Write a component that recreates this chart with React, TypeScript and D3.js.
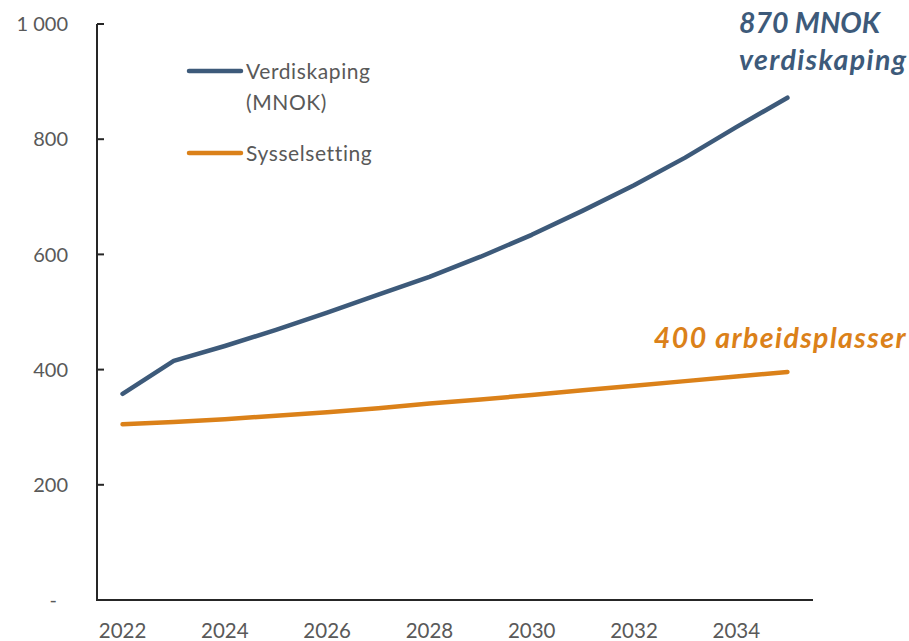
import React from "react";
import * as d3 from "d3";

const years = [2022, 2023, 2024, 2025, 2026, 2027, 2028, 2029, 2030, 2031, 2032, 2033, 2034, 2035];
const verdiskaping = [358, 415, 441, 469, 499, 530, 561, 596, 634, 676, 720, 768, 821, 872];
const sysselsetting = [305, 309, 314, 320, 326, 333, 341, 348, 356, 364, 372, 380, 388, 396];
const yTicks = [0, 200, 400, 600, 800, 1000];
const xTickYears = [2022, 2024, 2026, 2028, 2030, 2032, 2034];

const BLUE = "#3D5A7A";
const ORANGE = "#DB8119";
const GREY = "#595959";
const AXIS = "#262626";
const FONT = "Lato, 'Open Sans', sans-serif";

export default function App() {
  const W = 909;
  const H = 641;
  const x = d3.scaleBand<number>().domain(years).range([97, 813]);
  const cx = (yr: number) => (x(yr) as number) + x.bandwidth() / 2;
  const y = d3.scaleLinear().domain([0, 1000]).range([600, 24]);
  const fmt = (v: number) => (v === 0 ? "-" : d3.format(",")(v).replace(/,/g, " "));

  const line = d3
    .line<number>()
    .x((_, i) => cx(years[i]))
    .y((d) => y(d))
    .curve(d3.curveLinear);

  return (
    <svg
      width={W}
      height={H}
      style={{ position: "absolute", left: 0, top: 0, background: "#fff" }}
      fontFamily={FONT}
    >
      <rect x={0} y={0} width={W} height={H} fill="#fff" />
      {/* y axis */}
      <line x1={97} x2={97} y1={y(1000)} y2={y(0)} stroke={AXIS} strokeWidth={2} />
      {yTicks.map((t) => (
        <g key={t}>
          {t !== 0 && <line x1={97} x2={104} y1={y(t)} y2={y(t)} stroke={AXIS} strokeWidth={2} />}
          <text
            x={t === 0 ? 57 : 68}
            y={y(t)}
            dy="0.36em"
            textAnchor="end"
            fontSize={20}
            fill={GREY}
          >
            {fmt(t)}
          </text>
        </g>
      ))}
      {/* x axis */}
      <line x1={96} x2={813} y1={y(0)} y2={y(0)} stroke={AXIS} strokeWidth={2} />
      {xTickYears.map((yr) => (
        <text key={yr} x={cx(yr)} y={638} textAnchor="middle" fontSize={20.5} fill={GREY}>
          {yr}
        </text>
      ))}
      {/* lines */}
      <path d={line(sysselsetting) || ""} fill="none" stroke={ORANGE} strokeWidth={4.5} strokeLinecap="round" strokeLinejoin="round" />
      <path d={line(verdiskaping) || ""} fill="none" stroke={BLUE} strokeWidth={4.5} strokeLinecap="round" strokeLinejoin="round" />
      {/* legend */}
      <line x1={189} x2={241} y1={71} y2={71} stroke={BLUE} strokeWidth={4.5} strokeLinecap="round" />
      <text x={246} y={71} dy="0.36em" fontSize={21} letterSpacing={0.6} fill={GREY}>Verdiskaping</text>
      <text x={246} y={102} dy="0.36em" fontSize={21} letterSpacing={0.6} fill={GREY}>(MNOK)</text>
      <line x1={189} x2={241} y1={153} y2={153} stroke={ORANGE} strokeWidth={4.5} strokeLinecap="round" />
      <text x={246} y={153} dy="0.36em" fontSize={21} letterSpacing={0.6} fill={GREY}>Sysselsetting</text>
      {/* annotations */}
      <text x={739} y={33} fontSize={28.5} fontWeight="bold" fontStyle="italic" fill={BLUE}>870 MNOK</text>
      <text x={739} y={70} fontSize={28.5} fontWeight="bold" fontStyle="italic" letterSpacing={1.4} fill={BLUE}>verdiskaping</text>
      <text x={907} y={348} textAnchor="end" fontSize={28.5} fontWeight="bold" fontStyle="italic" letterSpacing={1.4} fill={ORANGE}>400 arbeidsplasser</text>
    </svg>
  );
}
